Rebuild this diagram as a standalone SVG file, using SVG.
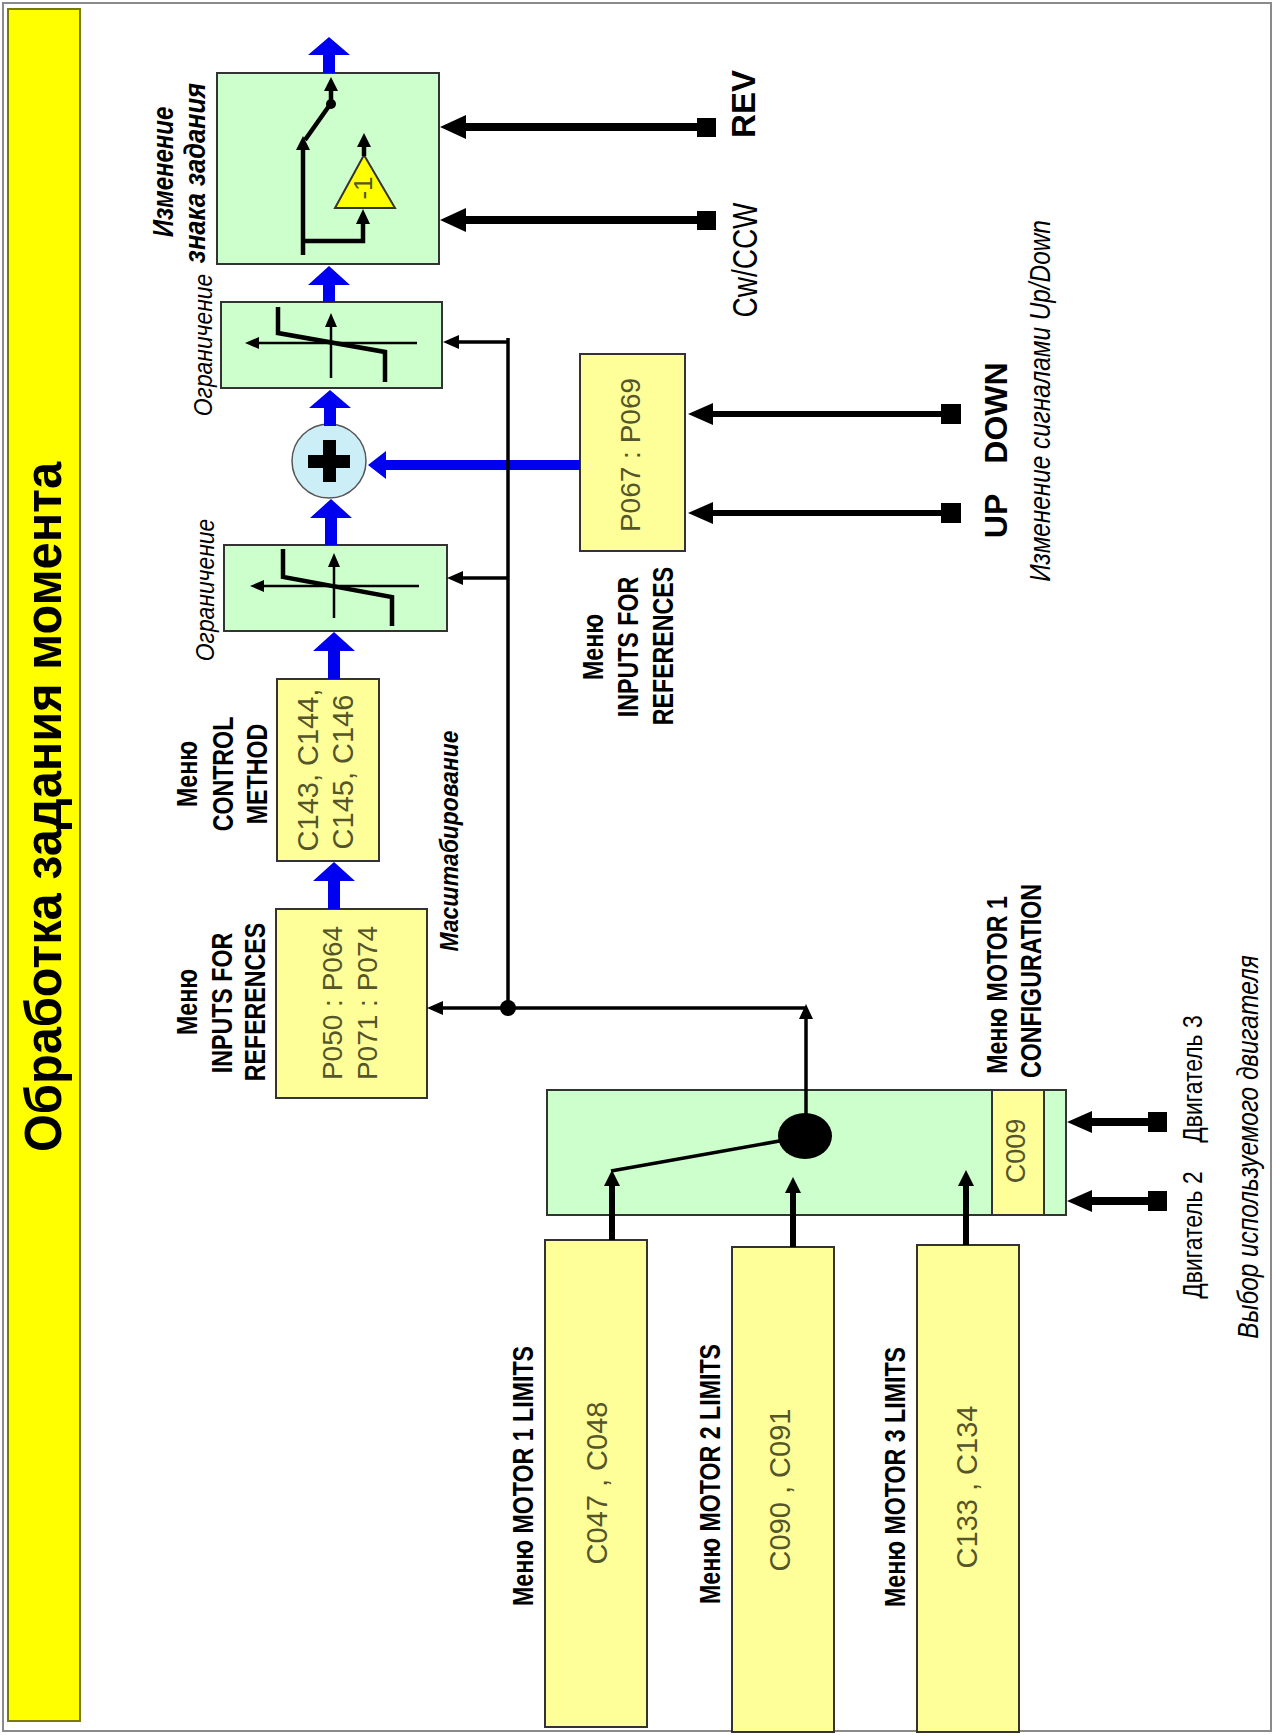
<svg xmlns="http://www.w3.org/2000/svg" width="1276" height="1735" viewBox="0 0 1276 1735">
<style>
.box{stroke:#333;stroke-width:2}
.grn{fill:#CCFFCC}
.yel{fill:#FFFF99}
.blue{fill:#0000F0}
.blk{fill:#000}
.ln{stroke:#000;fill:none;stroke-width:3.5}
.thk{stroke:#000;fill:none;stroke-width:4.5;stroke-linejoin:miter}
.ax{stroke:#000;fill:none;stroke-width:2.5}
text{font-family:"Liberation Sans",Arial,sans-serif;text-anchor:middle}
.lbl{font-weight:bold;font-size:29px;fill:#000}
.val{font-size:29px;fill:#55552a}
.it{font-style:italic;fill:#000}
</style>
<rect x="0" y="0" width="1276" height="1735" fill="#fff"/>
<rect x="3" y="3" width="1268" height="1728" fill="none" stroke="#8a8a8a" stroke-width="2"/>

<g id="title">
<rect x="8" y="9" width="72" height="1712" fill="#FFFF00" stroke="#7a7a00" stroke-width="2"/>
<text transform="translate(61,807) rotate(-90)" font-size="52" font-weight="bold" textLength="690" lengthAdjust="spacingAndGlyphs">Обработка задания момента</text>
</g>

<g id="sign-change">
<rect class="box grn" x="217" y="73" width="222" height="191"/>
<polyline class="thk" points="303,255 303,148"/>
<polygon class="blk" points="303,136 296,150 310,150"/>
<polyline class="thk" points="303,241 363,241 363,222"/>
<polygon class="blk" points="363,209 356,224 370,224"/>
<line class="thk" x1="305" y1="140" x2="329" y2="106"/>
<circle class="blk" cx="331" cy="104" r="5"/>
<line class="thk" x1="331" y1="104" x2="331" y2="89"/>
<polygon class="blk" points="331,77 324,91 338,91"/>
<polygon points="364,155 335,208 395,208" fill="#FFFF00" stroke="#333" stroke-width="2"/>
<line class="thk" x1="364" y1="156" x2="364" y2="145"/>
<polygon class="blk" points="364,133 357,147 371,147"/>
<text class="val" transform="translate(372,188) rotate(-90)" style="font-size:26px">-1</text>
<text class="it" transform="translate(173,172) rotate(-90) scale(0.8,1)" font-size="30" font-weight="bold">Изменение</text>
<text class="it" transform="translate(205,173) rotate(-90) scale(0.88,1)" font-size="29" font-weight="bold">знака задания</text>
</g>

<g id="limiter-2">
<rect class="box grn" x="221" y="302" width="221" height="86"/>
<line class="ax" x1="331" y1="378" x2="331" y2="325"/>
<polygon class="blk" points="331,313 325,327 337,327"/>
<line class="ax" x1="417" y1="343" x2="258" y2="343"/>
<polygon class="blk" points="245,343 259,337 259,349"/>
<polyline class="thk" points="278,307 278,333 385,352 385,382"/>
<text class="it" transform="translate(212,345) rotate(-90) scale(0.88,1)" font-size="26">Ограничение</text>
</g>

<g id="sum">
<circle cx="329" cy="461" r="37" fill="#CCEEF6" stroke="#555" stroke-width="1.5"/>
<rect class="blk" x="308" y="455" width="42" height="13"/>
<rect class="blk" x="323" y="440" width="13" height="42"/>
</g>

<g id="limiter-1">
<rect class="box grn" x="224" y="545" width="223" height="86"/>
<line class="ax" x1="334" y1="618" x2="334" y2="565"/>
<polygon class="blk" points="334,553 328,567 340,567"/>
<line class="ax" x1="419" y1="586" x2="263" y2="586"/>
<polygon class="blk" points="250,586 264,580 264,592"/>
<polyline class="thk" points="283,549 283,577 392,597 392,626"/>
<text class="it" transform="translate(214,590) rotate(-90) scale(0.88,1)" font-size="26">Ограничение</text>
</g>

<g id="control-method">
<rect class="box yel" x="277" y="679" width="102" height="182"/>
<text class="val" transform="translate(318,770) rotate(-90)">C143, C144,</text>
<text class="val" transform="translate(353,772) rotate(-90)">C145, C146</text>
<text class="lbl" transform="translate(197,774) rotate(-90) scale(0.8,1)">Меню</text>
<text class="lbl" transform="translate(233,774) rotate(-90) scale(0.8,1)">CONTROL</text>
<text class="lbl" transform="translate(267,774) rotate(-90) scale(0.8,1)">METHOD</text>
</g>

<g id="inputs-for-references-1">
<rect class="box yel" x="276" y="909" width="151" height="189"/>
<text class="val" transform="translate(342,1003) rotate(-90)" style="font-size:28px">P050 : P064</text>
<text class="val" transform="translate(377,1003) rotate(-90)" style="font-size:28px">P071 : P074</text>
<text class="lbl" transform="translate(197,1002) rotate(-90) scale(0.8,1)">Меню</text>
<text class="lbl" transform="translate(232,1003) rotate(-90) scale(0.8,1)">INPUTS FOR</text>
<text class="lbl" transform="translate(265,1002) rotate(-90) scale(0.8,1)">REFERENCES</text>
<text class="it" transform="translate(458,841) rotate(-90) scale(0.88,1)" font-size="26" font-weight="bold">Масштабирование</text>
</g>

<g id="inputs-for-references-2">
<rect class="box yel" x="580" y="354" width="105" height="197"/>
<text class="val" transform="translate(640,455) rotate(-90)" style="font-size:28px">P067 : P069</text>
<text class="lbl" transform="translate(603,647) rotate(-90) scale(0.8,1)">Меню</text>
<text class="lbl" transform="translate(638,647) rotate(-90) scale(0.8,1)">INPUTS FOR</text>
<text class="lbl" transform="translate(673,646) rotate(-90) scale(0.8,1)">REFERENCES</text>
</g>

<g id="rev-inputs">
<text class="lbl" transform="translate(755,104) rotate(-90)" style="font-size:33px">REV</text>
<text transform="translate(757,260) rotate(-90) scale(0.8,1)" font-size="35">Cw/CCW</text>
</g>

<g id="updown-inputs">
<text class="lbl" transform="translate(1007,413) rotate(-90)" style="font-size:32px">DOWN</text>
<text class="lbl" transform="translate(1007,516) rotate(-90)" style="font-size:32px">UP</text>
<text class="it" transform="translate(1050,401) rotate(-90) scale(0.84,1)" font-size="29">Изменение сигналами Up/Down</text>
</g>

<g id="motor-selector">
<rect class="box grn" x="547" y="1090" width="519" height="125"/>
<rect class="box yel" x="992" y="1090" width="52" height="125"/>
<text class="val" transform="translate(1025,1151) rotate(-90)" style="font-size:27px">C009</text>
<line class="ln" x1="611" y1="1171" x2="785" y2="1140" stroke-width="3.5"/>
<ellipse class="blk" cx="805" cy="1136" rx="27" ry="23"/>
<text class="lbl" transform="translate(1007,985) rotate(-90) scale(0.8,1)">Меню MOTOR 1</text>
<text class="lbl" transform="translate(1041,981) rotate(-90) scale(0.8,1)">CONFIGURATION</text>
<text transform="translate(1202,1079) rotate(-90) scale(0.82,1)" font-size="28">Двигатель 3</text>
<text transform="translate(1202,1235) rotate(-90) scale(0.82,1)" font-size="28">Двигатель 2</text>
<text class="it" transform="translate(1258,1147) rotate(-90) scale(0.84,1)" font-size="29">Выбор используемого двигателя</text>
</g>

<g id="motor-1-limits">
<rect class="box yel" x="545" y="1240" width="102" height="487"/>
<text class="val" transform="translate(607,1483) rotate(-90)">C047 , C048</text>
<text class="lbl" transform="translate(533,1476) rotate(-90) scale(0.8,1)">Меню MOTOR 1 LIMITS</text>
</g>
<g id="motor-2-limits">
<rect class="box yel" x="732" y="1247" width="102" height="485"/>
<text class="val" transform="translate(790,1490) rotate(-90)">C090 , C091</text>
<text class="lbl" transform="translate(720,1474) rotate(-90) scale(0.8,1)">Меню MOTOR 2 LIMITS</text>
</g>
<g id="motor-3-limits">
<rect class="box yel" x="917" y="1245" width="102" height="487"/>
<text class="val" transform="translate(977,1487) rotate(-90)">C133 , C134</text>
<text class="lbl" transform="translate(905,1477) rotate(-90) scale(0.8,1)">Меню MOTOR 3 LIMITS</text>
</g>

<g id="connectors">
<polygon class="blue" points="334,862 355,881 340,881 340,909 328,909 328,881 313,881"/>
<polygon class="blue" points="334,632 355,651 340,651 340,679 328,679 328,651 313,651"/>
<polygon class="blue" points="331,499 352,518 337,518 337,545 325,545 325,518 310,518"/>
<polygon class="blue" points="330,390 351,408 336,408 336,426 324,426 324,408 309,408"/>
<polygon class="blue" points="329,266 350,285 335,285 335,302 323,302 323,285 308,285"/>
<polygon class="blue" points="329,37 350,55 335,55 335,73 323,73 323,55 308,55"/>
<polygon class="blue" points="368,465 386,451 386,460 580,460 580,470 386,470 386,479"/>
<polygon class="blk" points="440,127 466,115 466,123 698,123 698,131 466,131 466,139"/>
<rect class="blk" x="697" y="118" width="19" height="19"/>
<polygon class="blk" points="440,220 466,208 466,216 698,216 698,224 466,224 466,232"/>
<rect class="blk" x="697" y="211" width="19" height="19"/>
<polygon class="blk" points="688,414 713,403 713,411 942,411 942,417 713,417 713,425"/>
<rect class="blk" x="941" y="404" width="20" height="20"/>
<polygon class="blk" points="688,513 713,502 713,510 942,510 942,516 713,516 713,524"/>
<rect class="blk" x="941" y="503" width="20" height="20"/>
<polygon class="blk" points="1067,1122 1092,1111 1092,1118 1149,1118 1149,1126 1092,1126 1092,1133"/>
<rect class="blk" x="1148" y="1112" width="19" height="20"/>
<polygon class="blk" points="1067,1201 1092,1190 1092,1197 1149,1197 1149,1205 1092,1205 1092,1212"/>
<rect class="blk" x="1148" y="1191" width="19" height="20"/>
<polygon class="blk" points="612,1170 620,1186 615,1186 615,1240 609,1240 609,1186 604,1186"/>
<polygon class="blk" points="793,1177 801,1193 796,1193 796,1247 790,1247 790,1193 785,1193"/>
<polygon class="blk" points="966,1170 974,1186 969,1186 969,1245 963,1245 963,1186 958,1186"/>
<line class="ln" x1="508" y1="338" x2="508" y2="1008"/>
<line class="ln" x1="508" y1="342" x2="457" y2="342"/>
<polygon class="blk" points="443,342 459,335 459,349"/>
<line class="ln" x1="508" y1="578" x2="461" y2="578"/>
<polygon class="blk" points="447,578 463,571 463,585"/>
<line class="ln" x1="806" y1="1008" x2="441" y2="1008" stroke-width="4"/>
<polygon class="blk" points="427,1008 443,1001 443,1015"/>
<circle class="blk" cx="508" cy="1008" r="8"/>
<line class="ln" x1="806" y1="1115" x2="806" y2="1017" stroke-width="3"/>
<polygon class="blk" points="806,1004 799,1019 813,1019"/>
</g>
</svg>
